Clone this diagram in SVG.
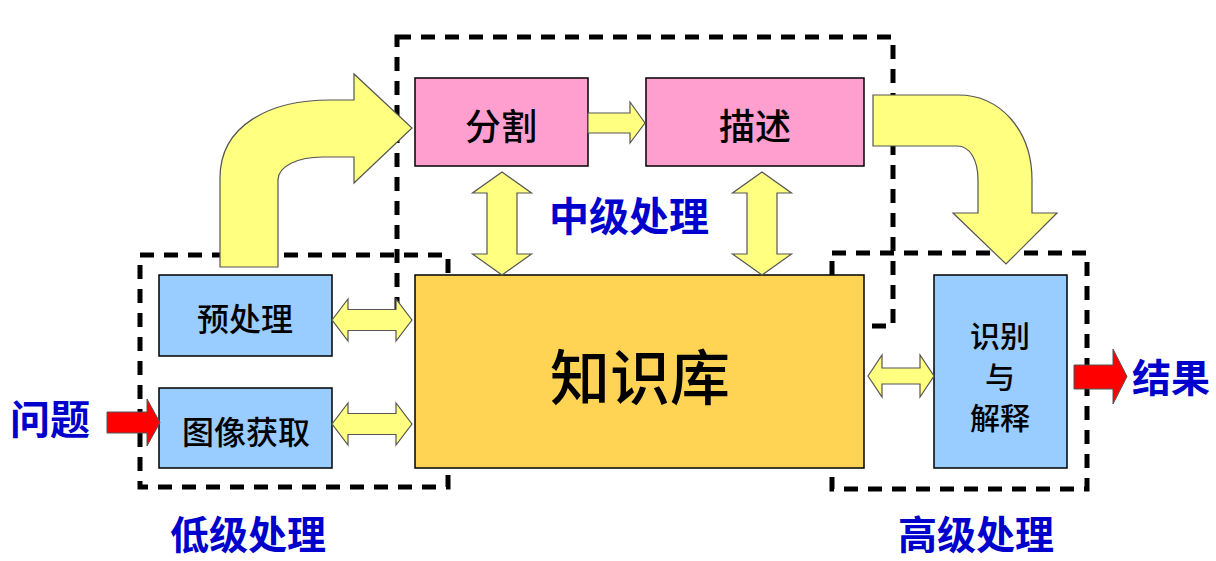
<svg xmlns="http://www.w3.org/2000/svg" width="1216" height="561" viewBox="0 0 1216 561">
<style>
.dash{fill:none;stroke:#000;stroke-width:5;stroke-dasharray:14 10}
.blue{fill:#99CCFF;stroke:#000;stroke-width:1.5}
.pink{fill:#FF9FCF;stroke:#000;stroke-width:1.5}
.kb{fill:#FFD455;stroke:#000;stroke-width:1.5}
.ya{fill:#FFFF80;stroke:#555;stroke-width:1.2;stroke-linejoin:miter}
.ra{fill:#FF0000;stroke:#555;stroke-width:1}
.t{font-family:"Noto Sans CJK SC","Noto Sans CJK JP",sans-serif;fill:#000;font-weight:500;text-anchor:middle;dominant-baseline:central}
.lb{font-family:"Noto Sans CJK SC","Noto Sans CJK JP",sans-serif;fill:#0000CC;font-weight:bold;text-anchor:middle;dominant-baseline:central}
</style>
<rect width="1216" height="561" fill="#fff"/>
<g id="region-low">
<rect class="dash" x="140" y="255" width="308" height="232"/>
<text class="lb" x="248" y="532" font-size="39">低级处理</text>
</g>
<g id="region-mid">
<rect class="dash" x="397" y="37" width="496" height="289"/>
<text class="lb" x="629" y="214" font-size="40">中级处理</text>
</g>
<g id="region-high">
<rect class="dash" x="832" y="253" width="255" height="236"/>
<text class="lb" x="976" y="532" font-size="39">高级处理</text>
</g>
<g id="node-fenge">
<rect class="pink" x="415" y="78" width="173" height="88"/>
<text class="t" x="501" y="124" font-size="36">分割</text>
</g>
<g id="node-miaoshu">
<rect class="pink" x="646" y="78" width="218" height="88"/>
<text class="t" x="755" y="124" font-size="36">描述</text>
</g>
<g id="node-kb">
<rect class="kb" x="415" y="275" width="449" height="193"/>
<text class="t" x="640" y="373" font-size="60">知识库</text>
</g>
<g id="node-yuchuli">
<rect class="blue" x="159" y="275" width="173" height="81"/>
<text class="t" x="245" y="317" font-size="32">预处理</text>
</g>
<g id="node-huoqu">
<rect class="blue" x="159" y="388" width="173" height="80"/>
<text class="t" x="246" y="430" font-size="32">图像获取</text>
</g>
<g id="node-shibie">
<rect class="blue" x="934" y="275" width="133" height="193"/>
<text class="t" x="1000" y="334" font-size="30">识别</text>
<text class="t" x="1000" y="375" font-size="30">与</text>
<text class="t" x="1000" y="416" font-size="30">解释</text>
</g>
<g id="node-wenti">
<text class="lb" x="50" y="417" font-size="40">问题</text>
</g>
<g id="node-jieguo">
<text class="lb" x="1171" y="375" font-size="39">结果</text>
</g>
<g id="connectors">
<path class="ya" d="M220,267 L220,178 C220,125 270,100 330,100 L354,100 L354,74 L412,128 L354,183 L354,157 L323,157 C298,157 278,166 278,180 L278,267 Z"/>
<path class="ya" d="M873,95 L958,95 C1000,95 1032,130 1032,180 L1032,213 L1057,213 L1006,264 L953,213 L978,213 L978,180 C978,160 970,146 957,146 L873,146 Z"/>
<path class="ya" d="M588,113 L630,113 L630,102 L645,123 L630,143 L630,133 L588,133 Z"/>
<path class="ya" d="M502,172 L531.5,193 L517,193 L517,254 L531.5,254 L502,275 L472.5,254 L487,254 L487,193 L472.5,193 Z"/>
<path class="ya" d="M762,172 L791.5,193 L777,193 L777,254 L791.5,254 L762,275 L732.5,254 L747,254 L747,193 L732.5,193 Z"/>
<path class="ya" d="M332,320 L348,299 L348,309.5 L396,309.5 L396,299 L412,320 L396,341 L396,330.5 L348,330.5 L348,341 Z"/>
<path class="ya" d="M332,424 L348,403 L348,413.5 L396,413.5 L396,403 L412,424 L396,445 L396,434.5 L348,434.5 L348,445 Z"/>
<path class="ya" d="M868,376 L882,355 L882,368 L920,368 L920,355 L934,376 L920,397 L920,384 L882,384 L882,397 Z"/>
<path class="ra" d="M107,412 L147,412 L147,399 L160,422.5 L147,446 L147,433 L107,433 Z"/>
<path class="ra" d="M1074,365 L1113,365 L1113,349 L1127,376.5 L1113,404 L1113,389 L1074,389 Z"/>
</g>
</svg>
